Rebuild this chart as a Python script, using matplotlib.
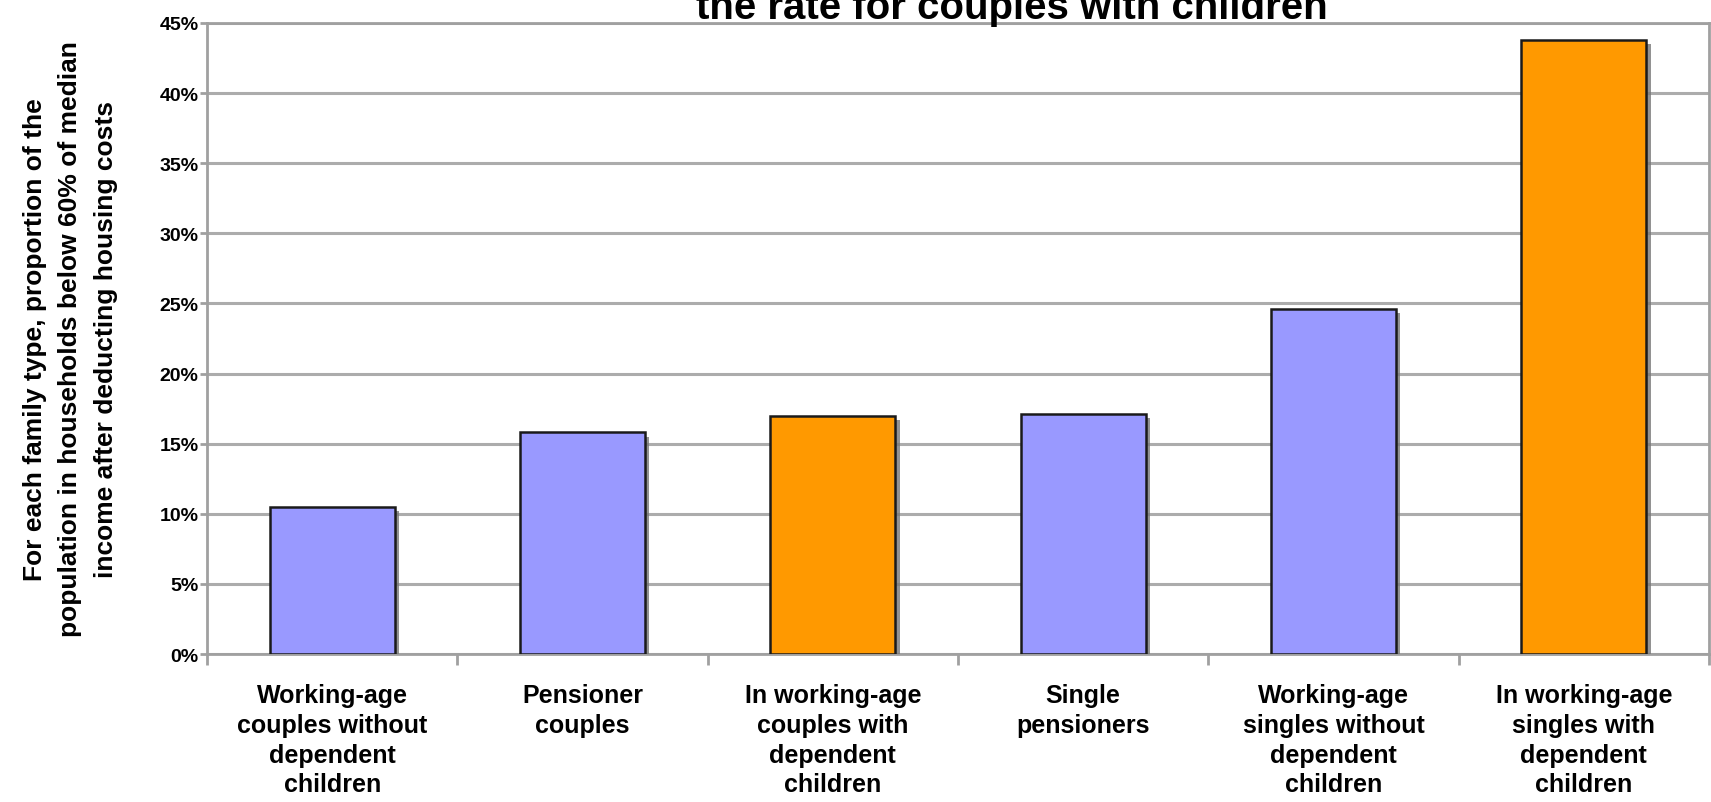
import matplotlib
matplotlib.use("Agg")
import matplotlib.pyplot as plt
import matplotlib.patheffects as pe
import numpy as np

plt.rcParams['font.family'] = ['Liberation Sans', 'DejaVu Sans']
plt.rcParams['font.weight'] = 'bold'

categories = ["Working-age\ncouples without\ndependent\nchildren",
              "Pensioner\ncouples",
              "In working-age\ncouples with\ndependent\nchildren",
              "Single\npensioners",
              "Working-age\nsingles without\ndependent\nchildren",
              "In working-age\nsingles with\ndependent\nchildren"]
values = [10.5, 15.8, 17.0, 17.1, 24.6, 43.8]
colors = ["#9999ff", "#9999ff", "#ff9900", "#9999ff", "#9999ff", "#ff9900"]
yticks = [0, 5, 10, 15, 20, 25, 30, 35, 40, 45]

W, H = 1711, 803
fig = plt.figure(figsize=(W / 100, H / 100), dpi=100)
ax = fig.add_axes([207 / W, 1 - 655 / H, (1709 - 207) / W, (655 - 24) / H])

x = np.arange(len(values))
bars = ax.bar(x, values, width=0.5, color=colors, edgecolor="#1a1a1a",
              linewidth=1.8, zorder=3)
for b in bars:
    b.set_path_effects([pe.SimplePatchShadow(offset=(3, -3), shadow_rgbFace="#777777", alpha=0.8),
                        pe.Normal()])

ax.set_xlim(-0.5, len(values) - 0.5)
ax.set_ylim(0, 45)
ax.set_yticks(yticks)
ax.set_yticklabels([f"{v}%" for v in yticks], fontsize=14, fontweight="bold")
ax.yaxis.grid(True, color="#acacac", linewidth=2.2, zorder=0)
ax.set_axisbelow(True)

ax.set_xticks(x)
ax.set_xticklabels(categories, fontsize=18, fontweight="bold", linespacing=1.3)
ax.tick_params(axis="x", length=0, pad=21)
ax.set_xticks(np.arange(-0.5, len(values)), minor=True)
ax.tick_params(axis="x", which="minor", length=8, width=2, color="#a0a0a0")
ax.tick_params(axis="y", length=5, width=2, color="#a0a0a0", pad=1)

for s in ax.spines.values():
    s.set_color("#a0a0a0")
    s.set_linewidth(2.0)

ax.set_ylabel("For each family type, proportion of the\npopulation in households below 60% of median\nincome after deducting housing costs",
              fontsize=19, fontweight="bold", linespacing=1.6, labelpad=30)

fig.text(1012 / W, 1 - 19 / H, "the rate for couples with children",
         ha="center", va="baseline", fontsize=29, fontweight="bold")

fig.savefig("out.png", dpi=100)
